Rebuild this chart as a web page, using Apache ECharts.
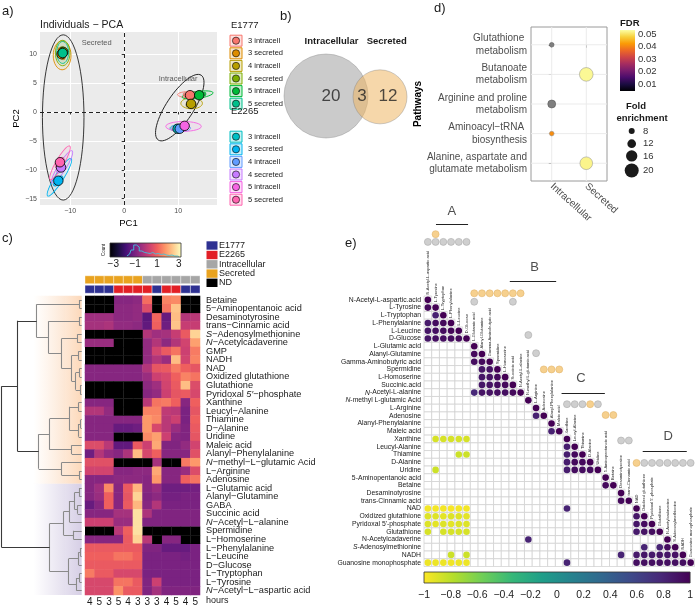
<!DOCTYPE html>
<html>
<head>
<meta charset="utf-8">
<script src="https://cdn.jsdelivr.net/npm/echarts@6.0.0/dist/echarts.min.js"></script>
<style>html,body{margin:0;padding:0;background:#fff;}#chart{width:696px;height:609px;}</style>
</head>
<body>
<div id="chart"></div>
<script>
// ================= DATA =================
// Panel a: PCA
const pcaGroupNames = ['3 intracell','3 secreted','4 intracell','4 secreted','5 intracell','5 secreted'];
const pcaStrains = ['E1777','E2265'];
const pcaColors = ['#F8766D','#DE8C00','#B79F00','#7CAE00','#00BA38','#00C08B','#00BFC4','#00B4F0','#619CFF','#C77CFF','#F564E3','#FF64B0'];
const pcaMeans = [[12.2,2.9],[-11.6,10.0],[12.4,1.4],[-11.3,10.4],[13.9,2.9],[-11.4,10.2],[9.9,-2.9],[-12.2,-11.9],[10.3,-2.9],[-11.7,-9.6],[11.2,-2.4],[-11.9,-8.7]];
const pcaSamples = [
  [[11.3,3.0],[12.6,3.1],[13.0,2.8]],
  [[-11.9,10.8],[-11.3,9.4],[-11.7,10.1]],
  [[11.8,1.2],[12.5,1.8],[13.0,1.2]],
  [[-11.5,11.0],[-11.0,10.0],[-11.6,10.3]],
  [[12.8,2.7],[14.2,3.0],[14.8,3.1]],
  [[-11.2,10.6],[-11.6,9.9],[-11.3,10.2]],
  [[9.5,-2.9],[10.2,-3.0],[10.1,-2.7]],
  [[-12.8,-12.5],[-12.1,-11.6],[-11.7,-11.4]],
  [[10.0,-3.0],[10.7,-2.8],[10.3,-2.9]],
  [[-12.2,-10.2],[-11.5,-9.3],[-11.4,-9.4]],
  [[10.5,-2.6],[11.6,-2.3],[11.5,-2.5]],
  [[-12.4,-9.4],[-11.8,-8.6],[-11.5,-8.2]]
];
// ellipse: centre x, centre y, semi-axis (x units), semi-axis (y units), angle (deg)
const pcaEllipses = [[12.3,3.0,2.4,0.55,0],[-11.5,9.8,1.65,2.5,0],[12.5,1.5,2.0,0.95,0],[-11.4,10.2,1.35,2.2,0],[13.6,2.95,2.9,0.6,8],[-11.4,10.3,1.1,1.9,0],[10.0,-2.8,1.5,0.55,0],[-12.0,-11.3,4.1,0.75,58],[10.5,-2.8,1.8,0.6,0],[-11.5,-9.5,3.5,0.7,58],[11.0,-2.5,3.3,0.85,0],[-11.9,-8.8,3.6,0.7,60]];
const pcaClusterEllipses = [[-11.3,-0.95,3.85,14.3,0],[10.3,0.75,7.2,2.34,56.5]];
const pcaClusterLabels = [['Secreted',-5.1,11.9],['Intracellular',10.0,5.8]];
const pcaXTicks = [-10,0,10];
const pcaYTicks = [-15,-10,-5,0,5,10];

// Panel b: Venn
const vennSets = ['Intracellular','Secreted'];
const vennCounts = [20,3,12];
const vennCircles = [[0,0,1],[1.286,-0.02,0.643]];
const vennCountPos = [[0.12,0],[0.857,0],[1.476,0]];

// Panel d: pathway enrichment
const dPathways = ['Glutathione \nmetabolism','Butanoate\nmetabolism','Arginine and proline\nmetabolism','Aminoacyl\u2212tRNA \nbiosynthesis','Alanine, aspartate and\nglutamate metabolism'];
const dSources = ['Intracellular','Secreted'];
const dPathIdx = [0,1,2,3,4];
const dSrcIdx = [0,1,0,0,1];
const dFold = [6,19.5,11,6,18];
const dFDR = [null,0.0525,null,0.041,0.052];
const dFdrTicks = [0.01,0.02,0.03,0.04,0.05];
const dLegendFolds = [8,12,16,20];

// Panel c: heatmap
const hmNames = ['Betaine','5\u2212Aminopentanoic acid','Desaminotyrosine','trans\u2212Cinnamic acid','S\u2212Adenosylmethionine','N\u2212Acetylcadaverine','GMP','NADH','NAD','Oxidized glutathione','Glutathione','Pyridoxal 5\u2032\u2212phosphate','Xanthine','Leucyl\u2212Alanine','Thiamine','D\u2212Alanine','Uridine','Maleic acid','Alanyl\u2212Phenylalanine','N\u2212methyl\u2212L\u2212glutamic Acid','L\u2212Arginine','Adenosine','L\u2212Glutamic acid','Alanyl\u2212Glutamine','GABA','Succinic acid','N\u2212Acetyl\u2212L\u2212alanine','Spermidine','L\u2212Homoserine','L\u2212Phenylalanine','L\u2212Leucine','D\u2212Glucose','L\u2212Tryptophan','L\u2212Tyrosine','N\u2212Acetyl\u2212L\u2212aspartic acid'];
const hmItalic = {4:[0,1],5:[0,1],11:[10,12],19:[0,1],26:[0,1],34:[0,1]};
const hmHours = ['4','5','3','5','4','3','3','3','4','5','4','5'];
const hmSource = ['Secreted','Secreted','Secreted','Secreted','Secreted','Secreted','Intracellular','Intracellular','Intracellular','Intracellular','Intracellular','Intracellular'];
const hmStrain = ['E1777','E1777','E1777','E2265','E2265','E2265','E2265','E1777','E2265','E2265','E1777','E1777'];
const N = null;
const hmVals = [
 [N,N,N,-0.8,-0.8,-0.7,1.2,N,1.5,1.6,N,N],
 [N,N,N,-0.7,-0.7,-0.6,0.6,N,1.3,2.4,N,N],
 [-0.4,-0.4,-0.4,-0.7,-0.7,-0.6,-1.5,1.1,-1.3,2.3,-0.1,0.0],
 [-0.3,-0.3,-0.2,-0.6,-0.6,-0.7,-1.4,1.0,-1.2,2.4,0.2,0.2],
 [N,N,N,N,N,N,-0.1,-0.4,-0.3,0.2,0.9,2.6],
 [-0.5,-0.5,-0.5,N,N,N,-0.6,-0.1,-0.7,-0.1,0.4,1.9],
 [N,N,N,N,N,N,-0.6,0.4,0.9,1.3,0.3,1.4],
 [N,N,N,N,N,N,-0.6,-0.1,-0.5,2.3,0.4,1.5],
 [-0.8,-0.8,-0.8,-0.8,-0.8,-0.8,-0.1,0.8,0.9,1.4,1.0,0.8],
 [-0.8,-0.8,-0.8,-0.8,-0.8,-0.8,-0.5,0.3,0.5,1.0,1.5,1.3],
 [N,N,N,N,N,N,-0.7,-0.4,0.4,0.9,2.3,0.6],
 [N,N,N,N,N,N,-0.8,-0.6,0.3,0.8,0.9,0.5],
 [-0.8,-0.8,-0.8,N,N,N,0.0,1.3,1.4,1.0,-0.8,1.0],
 [-0.1,-0.1,-0.6,N,N,N,1.5,1.5,0.1,0.0,-1.0,0.8],
 [-0.8,-0.8,-0.8,-0.8,-0.8,-0.8,1.8,1.6,0.0,0.3,-1.0,1.0],
 [-0.8,-0.8,-0.8,-1.3,-1.3,-1.2,1.8,0.5,0.0,-0.5,-0.9,0.9],
 [-0.8,-0.8,-0.8,N,N,N,1.6,1.9,0.3,-0.8,-0.9,0.8],
 [0.6,0.6,0.0,-1.4,-1.4,0.9,0.3,2.0,-0.9,-0.9,-0.6,0.4],
 [-1.2,-0.1,-0.6,-0.8,-0.2,2.3,0.5,1.0,-0.8,-0.8,-0.8,0.7],
 [0.7,0.7,0.7,N,N,N,N,-0.3,N,N,1.4,1.8],
 [0.4,0.4,0.4,-0.8,-0.8,-0.7,-0.7,2.0,-0.8,-0.8,-0.5,0.6],
 [-0.8,-0.8,-0.8,-0.7,-0.7,-0.7,-0.8,1.8,-0.8,-0.8,1.0,1.3],
 [-0.8,-0.4,1.6,-0.8,0.9,2.2,-0.8,-0.5,-1.2,-1.2,-1.2,-1.1],
 [-0.8,-0.5,1.0,-0.8,0.8,2.6,-0.9,-0.7,-1.1,-1.1,-1.0,-1.0],
 [-1.3,-0.8,1.0,-0.8,0.9,2.2,-0.8,-0.1,-1.0,-1.0,-1.0,-1.0],
 [-0.8,-0.8,-0.8,-0.3,-0.3,2.8,-0.2,-0.9,-0.9,-0.9,-0.9,-0.9],
 [0.3,0.3,0.3,-0.5,-0.5,2.8,-0.9,-0.9,-0.9,-0.9,-0.9,-0.9],
 [N,N,N,0.0,1.0,2.8,N,N,N,N,N,N],
 [-0.8,-0.8,-0.8,-0.8,0.9,2.6,0.0,N,-0.8,-0.8,N,N],
 [0.9,0.9,0.9,0.9,0.9,0.9,-0.9,-0.9,-1.3,-1.3,-1.3,-1.0],
 [1.0,1.0,1.0,1.3,1.3,1.0,-1.0,-1.0,-1.0,-1.0,-1.1,-1.0],
 [0.9,0.9,0.9,0.9,0.9,0.9,-1.0,-1.0,-1.0,-1.0,-1.0,-1.0],
 [1.4,0.9,0.9,0.5,0.5,0.5,-1.0,-1.0,-1.0,-1.0,-1.0,-1.0],
 [0.5,0.5,0.5,1.3,1.3,0.9,-0.9,0.3,-1.0,-1.0,-1.0,-1.0],
 [0.5,0.5,0.5,1.7,0.9,0.9,-0.9,-0.3,-0.9,-0.9,-0.9,-0.9]
];
// dendrogram merges: [child A, child B, height]; leaves 0..34, merged nodes 35+
const dendroMerges = [
 [0,1,2],[2,3,2],[4,5,4],[6,7,3],[8,9,2],[10,11,1.5],[39,40,6],[38,41,10],[37,42,20],[36,43,33],[35,44,45],
 [12,13,3],[14,15,1],[47,16,3],[46,48,12],[17,18,10],[49,50,32],[20,21,2],[19,52,20],[51,53,43],[45,54,64],
 [22,23,2],[24,25,4],[56,57,7],[58,26,12],[27,28,8],[59,60,18],[29,30,1],[62,31,3],[32,33,2],[64,34,5],[63,65,13],[61,66,32],
 [55,67,80]
];
const hmHistX = [-1.75,-1.5,-1.25,-1.0,-0.75,-0.5,-0.25,0,0.25,0.5,0.75,1.0,1.25,1.5,1.75,2.0,2.25,2.5,2.75,3.0];
const hmHistY = [2,6,14,24,20,12,9,8,7,9,6,7,5,6,4,3,4,2,2,1];
const hmKeyTicks = [-3,-1,1,3];

// Panel e: correlation matrix
const eNames = ['N-Acetyl-L-aspartic.acid','L-Tyrosine','L-Tryptophan','L-Phenylalanine','L-Leucine','D-Glucose','L-Glutamic acid','Alanyl-Glutamine','Gamma-Aminobutyric acid','Spermidine','L-Homoserine','Succinic.acid','N-Acetyl-L-alanine','N-methyl L-glutamic Acid','L-Arginine','Adenosine','Alanyl-Phenylalanine','Maleic acid','Xanthine','Leucyl-Alanine','Thiamine','D-Alanine','Uridine','5-Aminopentanoic acid','Betaine','Desaminotyrosine','trans-Cinnamic acid','NAD','Oxidized glutathione',"Pyridoxal 5'-phosphate",'Glutathione','N-Acetylcadaverine','S-Adenosylmethionine','NADH','Guanosine monophosphate'];
const eDiagNames = ['N-Acetyl-L-aspartic acid','L-Tyrosine','L-Tryptophan','L-Phenylalanine','L-Leucine','D-Glucose','L-Glutamic acid','Alanyl-Glutamine','Gamma-Aminobutyric acid','Spermidine','L-Homoserine','Succinic acid','N-Acetyl-L-alanine','N-methyl L-glutamic acid','L-Arginine','Adenosine','Alanyl-Phenylalanine','Maleic acid','Xanthine','Leucyl-Alanine','Thiamine','D-Alanine','Uridine','5-Aminopentanoic acid','Betaine','Desaminotyrosine','trans-Cinnamic acid','NAD','Oxidized glutathione',"Pyridoxal 5'-phosphate",'Glutathione','N-Acetylcadaverine','S-Adenosylmethionine','NADH','Guanosine monophosphate'];
const eItalic = [12,13,32];
// [row, col, r]
const eCorr = [
 [0,0,1],[1,0,0.95],[1,1,1],[2,1,0.82],[2,2,1],[3,0,0.86],[3,1,0.93],[3,2,0.95],[3,3,1],
 [4,0,0.88],[4,1,0.92],[4,2,0.93],[4,3,0.96],[4,4,1],[5,0,0.88],[5,1,0.92],[5,2,0.92],[5,3,0.93],[5,4,0.95],[5,5,1],
 [6,6,1],[7,6,0.95],[7,7,1],[8,6,0.93],[8,7,0.95],[8,8,1],[9,7,0.88],[9,8,0.9],[9,9,1],
 [10,7,0.88],[10,8,0.9],[10,9,0.95],[10,10,1],[11,7,0.88],[11,8,0.9],[11,9,0.93],[11,10,0.95],[11,11,1],
 [12,6,0.78],[12,7,0.9],[12,8,0.9],[12,9,0.92],[12,10,0.92],[12,11,0.95],[12,12,1],
 [13,13,1],[14,14,1],[15,14,0.82],[15,15,1],[16,16,1],[17,16,0.82],[17,17,1],
 [18,1,-0.88],[18,2,-0.88],[18,3,-0.88],[18,4,-0.88],[18,5,-0.88],[18,18,1],
 [19,18,0.84],[19,19,1],[20,4,-0.85],[20,5,-0.85],[20,18,0.84],[20,19,0.95],[20,20,1],
 [21,18,0.84],[21,19,0.95],[21,20,0.95],[21,21,1],[22,1,-0.85],[22,18,0.84],[22,19,0.93],[22,20,0.93],[22,21,0.93],[22,22,1],
 [23,23,1],[24,23,0.95],[24,24,1],[25,25,1],[26,25,0.95],[26,26,1],
 [27,0,-0.97],[27,1,-0.97],[27,2,-0.97],[27,3,-0.98],[27,4,-0.97],[27,5,-0.97],[27,18,0.8],[27,27,1],
 [28,0,-0.9],[28,1,-0.9],[28,2,-0.92],[28,3,-0.9],[28,4,-0.9],[28,5,-0.92],[28,27,0.88],[28,28,1],
 [29,0,-0.9],[29,1,-0.92],[29,2,-0.9],[29,3,-0.92],[29,4,-0.9],[29,5,-0.9],[29,27,0.88],[29,28,0.93],[29,29,1],
 [30,0,-0.88],[30,2,-0.88],[30,3,-0.88],[30,4,-0.88],[30,5,-0.88],[30,27,0.85],[30,28,0.9],[30,29,0.93],[30,30,1],
 [31,13,0.8],[31,31,1],[32,28,0.8],[32,30,0.8],[32,31,0.93],[32,32,1],
 [33,3,-0.85],[33,5,-0.85],[33,25,0.8],[33,27,0.86],[33,28,0.88],[33,29,0.86],[33,30,0.88],[33,31,0.88],[33,32,0.9],[33,33,1],
 [34,0,-0.95],[34,1,-0.95],[34,2,-0.95],[34,3,-0.96],[34,4,-0.95],[34,5,-0.95],[34,18,0.8],
 [34,27,0.92],[34,28,0.92],[34,29,0.92],[34,30,0.92],[34,31,0.92],[34,32,0.92],[34,33,0.92],[34,34,1]
];
// group marks above the diagonal (column, vertical position in row units)
const eSecretedMarks = [[1,-8.0],[6,-0.35],[7,-0.35],[8,-0.35],[9,-0.35],[10,-0.35],[11,-0.35],[12,-0.35],[15,9.5],[16,9.5],[17,9.5],[21,14.0],[23,15.4],[24,15.4],[27,21.6]];
const eIntraMarks = [[0,-7.0],[1,-7.0],[2,-7.0],[3,-7.0],[4,-7.0],[5,-7.0],[6,0.75],[11,0.75],[13,5.05],[14,7.4],[18,14.0],[19,14.0],[20,14.0],[22,14.0],[25,18.7],[26,18.7],[28,21.6],[29,21.6],[30,21.6],[31,21.6],[32,21.6],[33,21.6],[34,21.6]];
// group label: [text, label x, label y, line x1, line x2, line y]
const eGroups = [['A',3.6,-10.9,1.55,5.7,-9.3],['B',14.3,-3.75,11.1,17.1,-1.94],['C',20.3,10.7,17.8,23.4,12.55],['D',31.6,18.2,28.3,34.0,20.05]];

// ================= STYLE =================
const FONT = '"Liberation Sans", Arial, Helvetica, sans-serif';
const magma = ['#000004','#180f3d','#440f76','#721f81','#9e2f7f','#cd4071','#f1605d','#fd9668','#feca8d','#fcfdbf'];
const inferno = ['#000004','#1b0c41','#4a0c6b','#781c6d','#a52c60','#cf4446','#ed6925','#fb9b06','#f7d13d','#fcffa4'];
const viridisR = ['#fde725','#b5de2b','#6ece58','#35b779','#1f9e89','#26828e','#31688e','#3e4989','#482878','#440154'];
const annColors = {E1777:'#2E3192', E2265:'#E21F26', Intracellular:'#A6A6A6', Secreted:'#E9A320', ND:'#000000'};
const hexA = (h, a) => { const n = parseInt(h.slice(1),16); return 'rgba(' + ((n>>16)&255) + ',' + ((n>>8)&255) + ',' + (n&255) + ',' + a + ')'; };
const fmtMinus = v => String(v).replace('-', '\u2212');
const grad = (stops, vertical) => ({type:'linear', x:0, y: vertical ? 1 : 0, x2: vertical ? 0 : 1, y2: 0,
  colorStops: stops.map((c,i) => ({offset: i/(stops.length-1), color: c}))});
const S = 270.5/35;
const dSize = f => 6 + (f - 8) * 8 / 12;

// ================= SERIES =================
const series = [];
const add = s => { series.push(s); return series.length - 1; };

function ellipseItem(stroke, fill, lw) {
  return function (params, api) {
    const c = api.coord([api.value(0), api.value(1)]);
    const rx = api.size([api.value(2), 0])[0];
    const ry = api.size([0, api.value(3)])[1];
    const col = typeof stroke === 'function' ? stroke(params.dataIndex) : stroke;
    const fl = typeof fill === 'function' ? fill(params.dataIndex) : fill;
    return {type:'ellipse', x:c[0], y:c[1], rotation: api.value(4) * Math.PI / 180,
      shape:{cx:0, cy:0, rx:rx, ry:ry}, style:{fill: fl, stroke: col, lineWidth: lw}};
  };
}
// a) PCA
add({type:'custom', xAxisIndex:0, yAxisIndex:0, data: pcaClusterEllipses, z:2, silent:true,
  renderItem: ellipseItem('#222', 'rgba(0,0,0,0)', 0.9)});
add({type:'custom', xAxisIndex:0, yAxisIndex:0, data: pcaEllipses, z:3, silent:true,
  renderItem: ellipseItem(i => pcaColors[i], i => hexA(pcaColors[i], 0.07), 0.9)});
const sampleData = [];
pcaSamples.forEach((pts, g) => pts.forEach(p => sampleData.push([p[0], p[1], g])));
add({type:'scatter', xAxisIndex:0, yAxisIndex:0, data: sampleData, symbolSize:4.5, z:4, silent:true,
  itemStyle:{color: p => pcaColors[p.value[2]], opacity:0.85, borderColor:'rgba(0,0,0,0.4)', borderWidth:0.3}});
add({type:'scatter', xAxisIndex:0, yAxisIndex:0, data: pcaMeans.map((m,g) => [m[0], m[1], g]), symbolSize:9.5, z:5, silent:true,
  itemStyle:{color: p => pcaColors[p.value[2]], borderColor:'#000', borderWidth:0.8, opacity:1},
  markLine:{silent:true, symbol:['none','none'], label:{show:false}, lineStyle:{type:[4,3], color:'#222', width:1},
    data:[{xAxis:0},{yAxis:0}]}});
add({type:'scatter', xAxisIndex:0, yAxisIndex:0, data: pcaClusterLabels.map(l => [l[1], l[2], l[0]]), symbolSize:0, silent:true,
  label:{show:true, position:'inside', formatter: p => p.value[2], fontSize:7.5, color:'#333', fontFamily:FONT}});

// b) Venn
const vennUnit = 126 / 3;
add({type:'scatter', xAxisIndex:1, yAxisIndex:1, silent:true, data: vennCircles.map((c,i) => [c[0], c[1], c[2], i]),
  symbolSize: v => v[2] * 2 * vennUnit,
  itemStyle:{color: p => p.value[3] === 0 ? 'rgba(160,160,160,0.55)' : 'rgba(238,182,100,0.55)', borderColor:'rgba(120,120,120,0.6)', borderWidth:0.6, opacity:1}});
add({type:'scatter', xAxisIndex:1, yAxisIndex:1, silent:true, data: vennCountPos.map((p,i) => [p[0], p[1], vennCounts[i]]),
  symbolSize:0, label:{show:true, position:'inside', formatter: p => String(p.value[2]), fontSize:17, color:'#222', fontFamily:FONT}});

// d) pathway dots
// light gridlines at each category
add({type:'custom', xAxisIndex:2, yAxisIndex:2, data:[[0,0]], silent:true, z:1,
  renderItem: (p, api) => {
    const cs = p.coordSys; const kids = [];
    dPathIdx.forEach(r => { const y = api.coord([0, r])[1]; kids.push({type:'line', shape:{x1:cs.x, y1:y, x2:cs.x+cs.width, y2:y}, style:{stroke:'#ebebeb', lineWidth:1}}); });
    dSources.forEach((s, c) => { const x = api.coord([c, 0])[0]; kids.push({type:'line', shape:{x1:x, y1:cs.y, x2:x, y2:cs.y+cs.height}, style:{stroke:'#ebebeb', lineWidth:1}}); });
    return {type:'group', children:kids};
  }});
const dGray = [], dCol = [];
dPathIdx.forEach((p,i) => { const row = [dSrcIdx[i], p, dFold[i], dFDR[i]]; (dFDR[i] == null ? dGray : dCol).push(row); });
add({type:'scatter', xAxisIndex:2, yAxisIndex:2, data: dGray.map(r => [r[0], r[1], r[2]]), symbolSize: v => dSize(v[2]), silent:true, z:3,
  itemStyle:{color:'#7f7f7f', borderColor:'#4d4d4d', borderWidth:0.5, opacity:1}});
const iD = add({type:'scatter', xAxisIndex:2, yAxisIndex:2, data: dCol, symbolSize: v => dSize(v[2]), silent:true, z:3,
  itemStyle:{borderColor:'#8a8a8a', borderWidth:0.5, opacity:1}});
add({type:'custom', xAxisIndex:3, yAxisIndex:3, data:[[0,0.03]], silent:true,
  renderItem: (p) => ({type:'rect', shape:{x:p.coordSys.x, y:p.coordSys.y, width:p.coordSys.width, height:p.coordSys.height}, style:{fill: grad(inferno, true)}})});

// c) heatmap
const heatData = [], ndData = [];
hmVals.forEach((row, r) => row.forEach((v, c) => { if (v == null) ndData.push([c, r]); else heatData.push([c, r, v]); }));
const iHeat = add({type:'heatmap', xAxisIndex:4, yAxisIndex:4, data: heatData, silent:true, emphasis:{disabled:true}, progressive:0});
add({type:'custom', xAxisIndex:4, yAxisIndex:4, data: ndData, silent:true,
  renderItem: (p, api) => { const c = api.coord([api.value(0), api.value(1)]); const s = api.size([1,1]);
    return {type:'rect', shape:{x:c[0]-s[0]/2, y:c[1]-s[1]/2, width:s[0]+0.3, height:s[1]+0.3}, style:{fill: annColors.ND}}; }});
const annData = [];
hmSource.forEach((s, c) => { annData.push([c, 0]); annData.push([c, 1]); });
add({type:'custom', xAxisIndex:5, yAxisIndex:5, data: annData, silent:true,
  renderItem: (p, api) => { const col = api.value(0), row = api.value(1);
    const c = api.coord([col, row]); const s = api.size([1,1]);
    const fill = row === 0 ? annColors[hmSource[col]] : annColors[hmStrain[col]];
    return {type:'rect', shape:{x:c[0]-s[0]/2, y:c[1]-s[1]/2+0.8, width:s[0], height:s[1]-1.6}, style:{fill: fill, stroke:'rgba(255,255,255,0.75)', lineWidth:0.5}}; }});
// dendrogram
const nodeY = [], nodeH = [];
for (let i = 0; i < hmNames.length; i++) { nodeY[i] = i; nodeH[i] = 0; }
const segs = [];
dendroMerges.forEach((m, k) => {
  const id = hmNames.length + k; const a = m[0], b = m[1], h = m[2];
  nodeY[id] = (nodeY[a] + nodeY[b]) / 2; nodeH[id] = h;
  const col = h >= 60 ? '#3a3a3a' : '#8a8a8a';
  segs.push({coords:[[nodeH[a], nodeY[a]], [h, nodeY[a]]], lineStyle:{color: col}});
  segs.push({coords:[[nodeH[b], nodeY[b]], [h, nodeY[b]]], lineStyle:{color: col}});
  segs.push({coords:[[h, nodeY[a]], [h, nodeY[b]]], lineStyle:{color: col}});
});
add({type:'lines', coordinateSystem:'cartesian2d', xAxisIndex:6, yAxisIndex:6, data: segs, silent:true, lineStyle:{width:1.1, opacity:1},
  markArea:{silent:true, data:[
    [{coord:[48.7,-0.5], itemStyle:{color:{type:'linear',x:0,y:0,x2:1,y2:0,colorStops:[{offset:0,color:'rgba(252,222,196,0)'},{offset:1,color:'rgba(252,214,182,0.95)'}]}}}, {coord:[0,21.5]}],
    [{coord:[48.7,21.5], itemStyle:{color:{type:'linear',x:0,y:0,x2:1,y2:0,colorStops:[{offset:0,color:'rgba(214,206,230,0)'},{offset:1,color:'rgba(212,204,228,0.95)'}]}}}, {coord:[0,34.5]}]
  ]}});
// heatmap colour key
add({type:'custom', xAxisIndex:7, yAxisIndex:7, data:[[0,0]], silent:true, z:1,
  renderItem: (p) => ({type:'rect', shape:{x:p.coordSys.x, y:p.coordSys.y, width:p.coordSys.width, height:p.coordSys.height}, style:{fill: grad(magma, false)}})});
add({type:'line', xAxisIndex:7, yAxisIndex:7, data: hmHistX.map((x,i) => [x, hmHistY[i]]), step:'middle', symbol:'none', silent:true, z:3,
  lineStyle:{color:'#40c4dc', width:0.9}});
add({type:'custom', xAxisIndex:7, yAxisIndex:7, data:[[0,0]], silent:true, z:4,
  renderItem: (p) => ({type:'rect', shape:{x:p.coordSys.x, y:p.coordSys.y, width:p.coordSys.width, height:p.coordSys.height}, style:{fill:'none', stroke:'#333', lineWidth:0.8}})});

// e) correlation matrix
const eCells = [];
for (let j = 0; j < eNames.length; j++) for (let i = 0; i <= j; i++) eCells.push([i, j]);
add({type:'custom', xAxisIndex:8, yAxisIndex:8, data: eCells, silent:true, z:1,
  renderItem: (p, api) => { const c = api.coord([api.value(0), api.value(1)]); const s = api.size([1,1]);
    return {type:'rect', shape:{x:c[0]-s[0]/2, y:c[1]-s[1]/2, width:s[0], height:s[1]}, style:{fill:'#fff', stroke:'#cfcfcf', lineWidth:0.7}}; }});
const iE = add({type:'scatter', xAxisIndex:8, yAxisIndex:8, data: eCorr.map(d => [d[1], d[0], d[2]]), symbolSize:6.6, silent:true, z:3,
  itemStyle:{opacity:1}});
add({type:'custom', xAxisIndex:8, yAxisIndex:8, data: eDiagNames.map((n,i) => [i, i]), silent:true, z:3,
  renderItem: (p, api) => { const i = api.value(0); const c = api.coord([i, i]); const s = api.size([1,1]);
    return {type:'text', x:c[0], y:c[1]-s[1]/2-1.5, rotation:Math.PI/2,
      style:{text: eDiagNames[i], fontSize:4.1, fill:'#222', align:'left', verticalAlign:'middle', fontFamily:FONT}}; }});
add({type:'scatter', xAxisIndex:9, yAxisIndex:9, data: eSecretedMarks.map(m => [m[0] + 0.5, m[1]]), symbolSize:7, silent:true, z:4, clip:false,
  itemStyle:{color:'#F6D08E', borderColor:'#E2B66C', borderWidth:0.6, opacity:1}});
add({type:'scatter', xAxisIndex:9, yAxisIndex:9, data: eIntraMarks.map(m => [m[0] + 0.5, m[1]]), symbolSize:7, silent:true, z:4, clip:false,
  itemStyle:{color:'#CFCFCF', borderColor:'#ABABAB', borderWidth:0.6, opacity:1}});
add({type:'lines', coordinateSystem:'cartesian2d', xAxisIndex:9, yAxisIndex:9, silent:true,
  data: eGroups.map(g => ({coords:[[g[3], g[5]], [g[4], g[5]]]})), lineStyle:{color:'#222', width:1.2, opacity:1}});
add({type:'scatter', xAxisIndex:9, yAxisIndex:9, data: eGroups.map(g => [g[1], g[2], g[0]]), symbolSize:0, silent:true,
  label:{show:true, position:'inside', formatter: p => p.value[2], fontSize:13, color:'#222', fontFamily:FONT}});
add({type:'custom', xAxisIndex:10, yAxisIndex:10, data:[[0,0.5]], silent:true,
  renderItem: (p) => ({type:'rect', shape:{x:p.coordSys.x, y:p.coordSys.y, width:p.coordSys.width, height:p.coordSys.height}, style:{fill: grad(viridisR, false), stroke:'#333', lineWidth:0.8}})});

// ================= GRAPHIC (titles, legends) =================
const G = [];
const txt = (t, x, y, size, o) => Object.assign({type:'text', x:x, y:y, silent:true,
  style:Object.assign({text:t, fontSize:size, fontFamily:FONT, fill:'#1a1a1a', align:'left', verticalAlign:'middle'}, (o && o.style) || {})},
  o && o.rotation ? {rotation:o.rotation} : {});
G.push(txt('a)', 2, 11, 13));
G.push(txt('Individuals \u2212 PCA', 40, 25, 10.5));
pcaStrains.forEach((st, si) => {
  G.push(txt(st, 231, si === 0 ? 25 : 111.7, 9.5));
  pcaGroupNames.forEach((nm, gi) => {
    const y = (si === 0 ? 40.7 : 136.7) + gi * 12.6;
    const col = pcaColors[si * 6 + gi];
    G.push({type:'rect', silent:true, shape:{x:230, y:y-5.5, width:12, height:11}, style:{fill: hexA(col, 0.22), stroke: col, lineWidth:1}});
    G.push({type:'circle', silent:true, shape:{cx:236, cy:y, r:3.6}, style:{fill: col, stroke:'#000', lineWidth:0.6}});
    G.push(txt(nm, 248, y, 7.5));
  });
});
G.push(txt('b)', 280, 16, 13));
G.push(txt(vennSets[0], 331.5, 41, 9.5, {style:{fontWeight:'bold', align:'center'}}));
G.push(txt(vennSets[1], 386.7, 41, 9.5, {style:{fontWeight:'bold', align:'center'}}));
G.push(txt('d)', 434, 8, 13));
G.push(txt('FDR', 620, 23, 9.5, {style:{fontWeight:'bold'}}));
G.push(txt('Fold', 636, 106, 9.5, {style:{fontWeight:'bold', align:'center'}}));
G.push(txt('enrichment', 642, 118, 9.5, {style:{fontWeight:'bold', align:'center'}}));
const legY = [131, 143.7, 155.9, 170.5];
dLegendFolds.forEach((f, i) => {
  G.push({type:'circle', silent:true, shape:{cx:631.7, cy:legY[i], r:dSize(f)/2}, style:{fill:'#1a1a1a'}});
  G.push(txt(String(f), 643, legY[i], 9.5, {style:{fill:'#333'}}));
});
G.push(txt('c)', 2, 238, 13));
G.push(txt('Count', 104, 250, 4.5, {rotation:Math.PI/2, style:{align:'center'}}));
const cLeg = ['E1777','E2265','Intracellular','Secreted','ND'];
const cLegY = [245.5, 255, 264.3, 273.6, 282.8];
cLeg.forEach((k, i) => {
  G.push({type:'rect', silent:true, shape:{x:206.5, y:cLegY[i]-4.2, width:11, height:8.4}, style:{fill: annColors[k]}});
  G.push(txt(k, 219, cLegY[i], 9));
});
G.push(txt('hours', 206, 600.5, 9));
G.push(txt('e)', 345, 243, 13));

// ================= OPTION =================
const hidden = (gi, o) => Object.assign({gridIndex:gi, type:'value', show:false}, o);
const labelRich = size => ({i:{fontStyle:'italic', fontSize:size, fontFamily:FONT, color:'#1a1a1a'}, n:{fontSize:size, fontFamily:FONT, color:'#1a1a1a'}});

const option = {
  animation:false,
  textStyle:{fontFamily:FONT},
  grid:[
    {left:40, top:32, width:177, height:173, show:true, backgroundColor:'#EBEBEB', borderWidth:0},
    {left:284, top:54, width:126, height:84},
    {left:531, top:27, width:76, height:154, show:true, backgroundColor:'#fff', borderColor:'#9a9a9a', borderWidth:1},
    {left:620, top:30, width:15, height:61},
    {left:85, top:295.7, width:115, height:299.3},
    {left:85, top:275, width:115, height:19},
    {left:0, top:295.7, width:81.7, height:299.3},
    {left:110, top:243, width:71, height:14},
    {left:424, top:296, width:270.5, height:270.5},
    {left:424, top:296 - 12*S, width:270.5, height:47*S},
    {left:424, top:572, width:271, height:11}
  ],
  xAxis:[
    {gridIndex:0, type:'value', min:-15.6, max:17.2, axisLine:{show:false},
      axisTick:{show:true, length:2.5, lineStyle:{color:'#333'}, customValues:pcaXTicks},
      axisLabel:{customValues:pcaXTicks, fontSize:7, color:'#4d4d4d', margin:3, formatter:fmtMinus},
      splitLine:{show:true, lineStyle:{color:'#fff', width:1}},
      name:'PC1', nameLocation:'middle', nameGap:13, nameTextStyle:{fontSize:9.5, color:'#000'}},
    hidden(1, {min:-1, max:2}),
    {gridIndex:2, type:'value', min:-0.6, max:1.6, axisLine:{show:false},
      axisTick:{show:true, length:3, lineStyle:{color:'#555'}, customValues:[0,1]},
      axisLabel:{customValues:[0,1], formatter: v => dSources[Math.round(v)], rotate:-42, fontSize:10, color:'#4d4d4d', margin:4},
      splitLine:{show:false}},
    hidden(3, {min:0, max:1}),
    {gridIndex:4, type:'category', data: hmHours.map((h,i) => String(i)), axisLine:{show:false}, axisTick:{show:false},
      axisLabel:{interval:0, formatter:(v,i) => hmHours[i], fontSize:10, color:'#1a1a1a', margin:2}, splitLine:{show:false}},
    {gridIndex:5, type:'category', data: hmHours.map((h,i) => String(i)), show:false},
    hidden(6, {min:0, max:81.7, inverse:true}),
    {gridIndex:7, type:'value', min:-3.3, max:3.2, axisLine:{show:false}, axisTick:{show:false}, splitLine:{show:false},
      axisLabel:{customValues:hmKeyTicks, formatter:fmtMinus, fontSize:10, color:'#1a1a1a', margin:2}},
    {gridIndex:8, type:'category', data: eNames.map((n,i) => String(i)), show:false},
    hidden(9, {min:0, max:35}),
    {gridIndex:10, type:'value', min:-1, max:1, interval:0.2, axisLine:{show:false}, axisTick:{show:false}, splitLine:{show:false},
      axisLabel:{formatter: v => fmtMinus(Math.round(v*10)/10), fontSize:10.5, color:'#222', margin:7}}
  ],
  yAxis:[
    {gridIndex:0, type:'value', min:-16.1, max:13.84, axisLine:{show:false},
      axisTick:{show:true, length:2.5, lineStyle:{color:'#333'}, customValues:pcaYTicks},
      axisLabel:{customValues:pcaYTicks, fontSize:7, color:'#4d4d4d', margin:3, formatter:fmtMinus},
      splitLine:{show:true, lineStyle:{color:'#fff', width:1}},
      name:'PC2', nameLocation:'middle', nameGap:17, nameRotate:90, nameTextStyle:{fontSize:9.5, color:'#000'}},
    hidden(1, {min:-1, max:1}),
    {gridIndex:2, type:'value', min:-0.6, max:4.6, inverse:true, axisLine:{show:false},
      axisTick:{show:true, length:3, lineStyle:{color:'#555'}, customValues:[0,1,2,3,4]},
      axisLabel:{customValues:[0,1,2,3,4], formatter: v => dPathways[Math.round(v)], fontSize:10, color:'#4d4d4d', lineHeight:12.5, margin:4, align:'right'},
      splitLine:{show:false},
      name:'Pathways', nameLocation:'middle', nameGap:106, nameRotate:90, nameTextStyle:{fontWeight:'bold', fontSize:10, color:'#000'}},
    {gridIndex:3, type:'value', min:0.0047, max:0.0533, position:'right', axisLine:{show:false}, axisTick:{show:false}, splitLine:{show:false},
      axisLabel:{customValues:dFdrTicks, formatter: v => v.toFixed(2), fontSize:9.5, color:'#333', margin:3}},
    {gridIndex:4, type:'category', data: hmNames, inverse:true, position:'right', axisLine:{show:false}, axisTick:{show:false},
      axisLabel:{interval:0, fontSize:9.2, color:'#1a1a1a', margin:6, align:'left',
        formatter:(v, i) => { const r = hmItalic[i]; if (!r) return '{n|' + v + '}';
          return (r[0] > 0 ? '{n|' + v.slice(0, r[0]) + '}' : '') + '{i|' + v.slice(r[0], r[1]) + '}{n|' + v.slice(r[1]) + '}'; },
        rich: labelRich(9.2)}},
    {gridIndex:5, type:'category', data:['0','1'], inverse:true, show:false},
    hidden(6, {min:-0.5, max:34.5, inverse:true}),
    hidden(7, {min:0, max:28}),
    {gridIndex:8, type:'category', data: eNames, inverse:true, axisLine:{show:false}, axisTick:{show:false},
      axisLabel:{interval:0, fontSize:6.8, color:'#1a1a1a', margin:3,
        formatter:(v, i) => eItalic.indexOf(i) >= 0 ? '{i|' + v[0] + '}{n|' + v.slice(1) + '}' : '{n|' + v + '}',
        rich: labelRich(6.8)}},
    hidden(9, {min:-12, max:35, inverse:true}),
    hidden(10, {min:0, max:1})
  ],
  visualMap:[
    {type:'continuous', show:false, seriesIndex:iHeat, dimension:2, min:-3.3, max:3.2, inRange:{color:magma}},
    {type:'continuous', show:false, seriesIndex:iD, dimension:3, min:0.0047, max:0.0533, inRange:{color:inferno}},
    {type:'continuous', show:false, seriesIndex:iE, dimension:2, min:-1, max:1, inRange:{color:viridisR}}
  ],
  series: series,
  graphic:{elements: G}
};
const chart = echarts.init(document.getElementById('chart'), null, {renderer:'canvas'});
chart.setOption(option);
</script>
</body>
</html>
